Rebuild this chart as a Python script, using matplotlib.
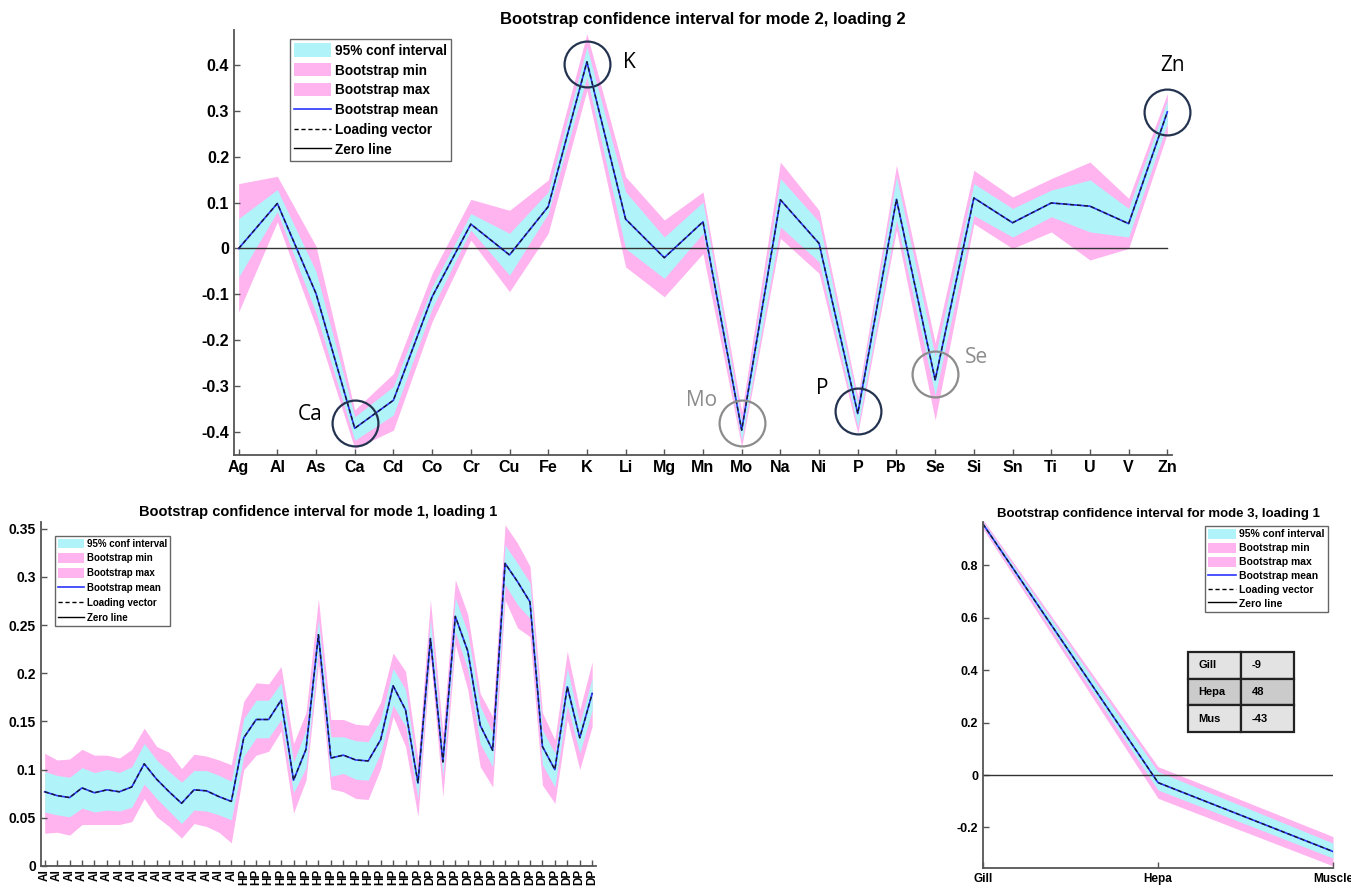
import numpy as np
import matplotlib.pyplot as plt
from matplotlib.patches import Patch
from matplotlib.lines import Line2D

plt.rcParams['font.family'] = ['Liberation Sans', 'DejaVu Sans']

CYAN = '#b0f4f9'
PINK = '#ffb4f0'
NAVY = '#243350'
GREY = '#8c8c8c'

# --- mode 2, loading 2 (elements) ---
elements = ['Ag', 'Al', 'As', 'Ca', 'Cd', 'Co', 'Cr', 'Cu', 'Fe', 'K', 'Li', 'Mg', 'Mn',
            'Mo', 'Na', 'Ni', 'P', 'Pb', 'Se', 'Si', 'Sn', 'Ti', 'U', 'V', 'Zn']
m2_mean = [0.000, 0.098, -0.098, -0.391, -0.330, -0.105, 0.053, -0.014, 0.091, 0.406, 0.064, -0.020, 0.058,
           -0.395, 0.106, 0.011, -0.359, 0.107, -0.286, 0.110, 0.056, 0.099, 0.092, 0.054, 0.297]
m2_ci_hi = [0.065, 0.128, -0.050, -0.366, -0.300, -0.083, 0.076, 0.033, 0.123, 0.438, 0.123, 0.025, 0.101,
            -0.377, 0.152, 0.058, -0.337, 0.156, -0.235, 0.141, 0.087, 0.127, 0.149, 0.087, 0.322]
m2_ci_lo = [-0.062, 0.080, -0.140, -0.417, -0.362, -0.130, 0.040, -0.058, 0.076, 0.373, 0.000, -0.065, 0.033,
            -0.417, 0.047, -0.029, -0.388, 0.062, -0.319, 0.072, 0.025, 0.069, 0.036, 0.025, 0.272]
m2_max = [0.141, 0.157, 0.005, -0.351, -0.272, -0.054, 0.107, 0.083, 0.149, 0.467, 0.156, 0.062, 0.123,
          -0.355, 0.188, 0.083, -0.322, 0.181, -0.205, 0.170, 0.112, 0.152, 0.188, 0.109, 0.337]
m2_min = [-0.138, 0.058, -0.170, -0.435, -0.395, -0.159, 0.018, -0.094, 0.033, 0.344, -0.040, -0.105, -0.011,
          -0.431, 0.022, -0.054, -0.402, 0.040, -0.373, 0.054, 0.000, 0.036, -0.025, 0.000, 0.250]

# --- mode 1, loading 1 (samples) ---
samples = ['Al'] * 16 + ['HP'] * 14 + ['DP'] * 15
m1_mean = [0.077, 0.073, 0.071, 0.081, 0.076, 0.079, 0.077, 0.082, 0.106, 0.090, 0.077, 0.065, 0.079, 0.078, 0.072, 0.067,
           0.133, 0.152, 0.152, 0.172, 0.089, 0.121, 0.240, 0.112, 0.115, 0.110, 0.109, 0.131, 0.187, 0.162,
           0.086, 0.236, 0.108, 0.259, 0.223, 0.146, 0.120, 0.314, 0.295, 0.274, 0.124, 0.100, 0.186, 0.133, 0.179]
m1_ci_hi = [0.098, 0.094, 0.092, 0.102, 0.097, 0.100, 0.097, 0.103, 0.127, 0.110, 0.098, 0.087, 0.099, 0.099, 0.094, 0.088,
            0.153, 0.172, 0.172, 0.190, 0.108, 0.141, 0.256, 0.134, 0.134, 0.130, 0.129, 0.152, 0.205, 0.183,
            0.095, 0.256, 0.121, 0.278, 0.242, 0.166, 0.138, 0.333, 0.314, 0.294, 0.141, 0.117, 0.205, 0.148, 0.195]
m1_ci_lo = [0.056, 0.053, 0.051, 0.060, 0.056, 0.058, 0.057, 0.061, 0.085, 0.070, 0.057, 0.044, 0.058, 0.057, 0.053, 0.048,
            0.114, 0.133, 0.133, 0.152, 0.076, 0.102, 0.224, 0.093, 0.096, 0.090, 0.089, 0.117, 0.167, 0.145,
            0.070, 0.226, 0.093, 0.243, 0.204, 0.127, 0.103, 0.292, 0.271, 0.257, 0.105, 0.082, 0.167, 0.117, 0.162]
m1_max = [0.117, 0.110, 0.111, 0.121, 0.115, 0.115, 0.112, 0.121, 0.143, 0.124, 0.118, 0.101, 0.116, 0.114, 0.110, 0.105,
          0.171, 0.190, 0.189, 0.207, 0.127, 0.159, 0.277, 0.152, 0.152, 0.147, 0.146, 0.170, 0.221, 0.202,
          0.110, 0.276, 0.138, 0.297, 0.261, 0.179, 0.155, 0.354, 0.335, 0.311, 0.159, 0.131, 0.223, 0.162, 0.212]
m1_min = [0.034, 0.035, 0.032, 0.043, 0.043, 0.043, 0.043, 0.046, 0.070, 0.051, 0.041, 0.029, 0.044, 0.041, 0.035, 0.024,
          0.100, 0.115, 0.119, 0.140, 0.055, 0.089, 0.210, 0.080, 0.077, 0.070, 0.069, 0.101, 0.155, 0.124,
          0.051, 0.217, 0.072, 0.230, 0.183, 0.103, 0.082, 0.276, 0.247, 0.238, 0.084, 0.065, 0.152, 0.100, 0.145]

# --- mode 3, loading 1 (tissues) ---
tissues = ['Gill', 'Hepa', 'Muscle']
m3_mean = [0.958, -0.029, -0.292]
m3_ci_hi = [0.966, 0.013, -0.260]
m3_ci_lo = [0.950, -0.057, -0.317]
m3_max = [0.975, 0.032, -0.235]
m3_min = [0.940, -0.089, -0.347]

table_rows = [['Gill', '-9'], ['Hepa', '48'], ['Mus', '-43']]
table_colors = ['#e3e3e3', '#cbcbcb', '#e3e3e3']

legend_labels = ['95% conf interval', 'Bootstrap min', 'Bootstrap max',
                 'Bootstrap mean', 'Loading vector', 'Zero line']


def draw_panel(ax, x, mean, lo, hi, mn, mx, title, fs):
    x = np.asarray(x, dtype=float)
    ax.fill_between(x, mn, mx, color=PINK, lw=0)
    ax.fill_between(x, lo, hi, color=CYAN, lw=0)
    ax.plot([x[0], x[-1]], [0, 0], color='#333333', lw=1.0)
    ax.plot(x, mean, color='#2b35ff', lw=1.2)
    ax.plot(x, mean, color='#1a1a2a', lw=1.0, ls=(0, (3, 2)))
    ax.set_title(title, fontsize=fs + 1, fontweight='bold', pad=4)
    for s in ['top', 'right']:
        ax.spines[s].set_visible(False)
    for s in ['left', 'bottom']:
        ax.spines[s].set_color('#555555')
        ax.spines[s].set_linewidth(1.3)
    ax.tick_params(direction='in', length=4, width=1.0, color='#555555', labelsize=fs)


def add_legend(ax, fs, loc, anchor, spacing):
    handles = [Patch(facecolor=CYAN, edgecolor='none'),
               Patch(facecolor=PINK, edgecolor='none'),
               Patch(facecolor=PINK, edgecolor='none'),
               Line2D([], [], color='#2b35ff', lw=1.2),
               Line2D([], [], color='black', lw=1.0, ls=(0, (3, 2))),
               Line2D([], [], color='black', lw=1.0)]
    leg = ax.legend(handles, legend_labels, loc=loc, bbox_to_anchor=anchor, fontsize=fs,
                    frameon=True, fancybox=False, framealpha=1, edgecolor='#666666',
                    handlelength=2.7, handleheight=1.1, handletextpad=0.3,
                    labelspacing=spacing, borderpad=0.3, borderaxespad=0)
    leg.get_frame().set_linewidth(1.0)
    for t in leg.get_texts():
        t.set_fontweight('bold')


fig = plt.figure(figsize=(13.51, 8.89), dpi=100)

# top panel
ax1 = fig.add_axes([0.1732, 0.4882, 0.6943, 0.478])
x1 = np.arange(len(elements))
draw_panel(ax1, x1, m2_mean, m2_ci_lo, m2_ci_hi, m2_min, m2_max,
           'Bootstrap confidence interval for mode 2, loading 2', 11)
ax1.set_xlim(-0.12, len(elements) - 1 + 0.12)
ax1.set_ylim(-0.449, 0.475)
ax1.set_xticks(x1)
ax1.set_xticklabels(elements, fontweight='bold', fontsize=11.5)
ax1.set_yticks([-0.4, -0.3, -0.2, -0.1, 0, 0.1, 0.2, 0.3, 0.4])
ax1.set_yticklabels(['-0.4', '-0.3', '-0.2', '-0.1', '0', '0.1', '0.2', '0.3', '0.4'],
                    fontweight='bold', fontsize=11.5)
add_legend(ax1, 9.8, 'upper left', (0.06, 0.978), 0.42)

# highlighted elements
marks = [('K', 0.402, 1.1, 0.404, NAVY, 'black'),
         ('Ca', -0.379, -1.16, -0.362, NAVY, 'black'),
         ('Mo', -0.379, -1.04, -0.330, GREY, GREY),
         ('P', -0.353, -0.93, -0.304, NAVY, 'black'),
         ('Se', -0.272, 1.06, -0.237, GREY, GREY),
         ('Zn', 0.297, 0.13, 0.399, NAVY, 'black')]
for name, cy, dx, ty, ccol, tcol in marks:
    i = elements.index(name)
    ax1.plot(i, cy, marker='o', ms=33, mfc='none', mec=ccol, mew=1.6, zorder=5, clip_on=False)
    ax1.text(i + dx, ty, name, fontsize=15, color=tcol, ha='center', va='center',
             family=['Open Sans', 'DejaVu Sans'])

# bottom-left panel
ax2 = fig.add_axes([0.0303, 0.0259, 0.4108, 0.387])
x2 = np.arange(len(samples))
draw_panel(ax2, x2, m1_mean, m1_ci_lo, m1_ci_hi, m1_min, m1_max,
           'Bootstrap confidence interval for mode 1, loading 1', 9.5)
ax2.set_xlim(-0.3, len(samples) - 1 + 0.3)
ax2.set_ylim(0, 0.357)
ax2.set_xticks(x2)
ax2.set_xticklabels(samples, rotation=90, fontweight='bold', fontsize=8.5)
ax2.set_yticks([0, 0.05, 0.1, 0.15, 0.2, 0.25, 0.3, 0.35])
ax2.set_yticklabels(['0', '0.05', '0.1', '0.15', '0.2', '0.25', '0.3', '0.35'],
                    fontweight='bold', fontsize=10)
ax2.tick_params(axis='x', pad=2)
add_legend(ax2, 7, 'upper left', (0.025, 0.96), 0.5)

# bottom-right panel
ax3 = fig.add_axes([0.7276, 0.0236, 0.2591, 0.389])
x3 = np.arange(1, len(tissues) + 1)
draw_panel(ax3, x3, m3_mean, m3_ci_lo, m3_ci_hi, m3_min, m3_max,
           'Bootstrap confidence interval for mode 3, loading 1', 8.5)
ax3.set_xlim(1, 3)
ax3.set_ylim(-0.355, 0.965)
ax3.set_xticks(x3)
ax3.set_xticklabels(tissues, fontweight='bold', fontsize=8.5)
ax3.set_yticks([-0.2, 0, 0.2, 0.4, 0.6, 0.8])
ax3.set_yticklabels(['-0.2', '0', '0.2', '0.4', '0.6', '0.8'], fontweight='bold', fontsize=9)
add_legend(ax3, 7.5, 'upper right', (0.985, 0.99), 0.32)

tbl = ax3.table(cellText=table_rows, cellLoc='left', bbox=[0.586, 0.394, 0.303, 0.23])
tbl.auto_set_font_size(False)
for (r, c), cell in tbl.get_celld().items():
    cell.set_facecolor(table_colors[r])
    cell.set_edgecolor('#222222')
    cell.set_linewidth(1.6)
    cell.get_text().set_fontsize(8)
    cell.get_text().set_fontweight('bold')
    cell.PAD = 0.2

fig.savefig('out.png', dpi=100)
